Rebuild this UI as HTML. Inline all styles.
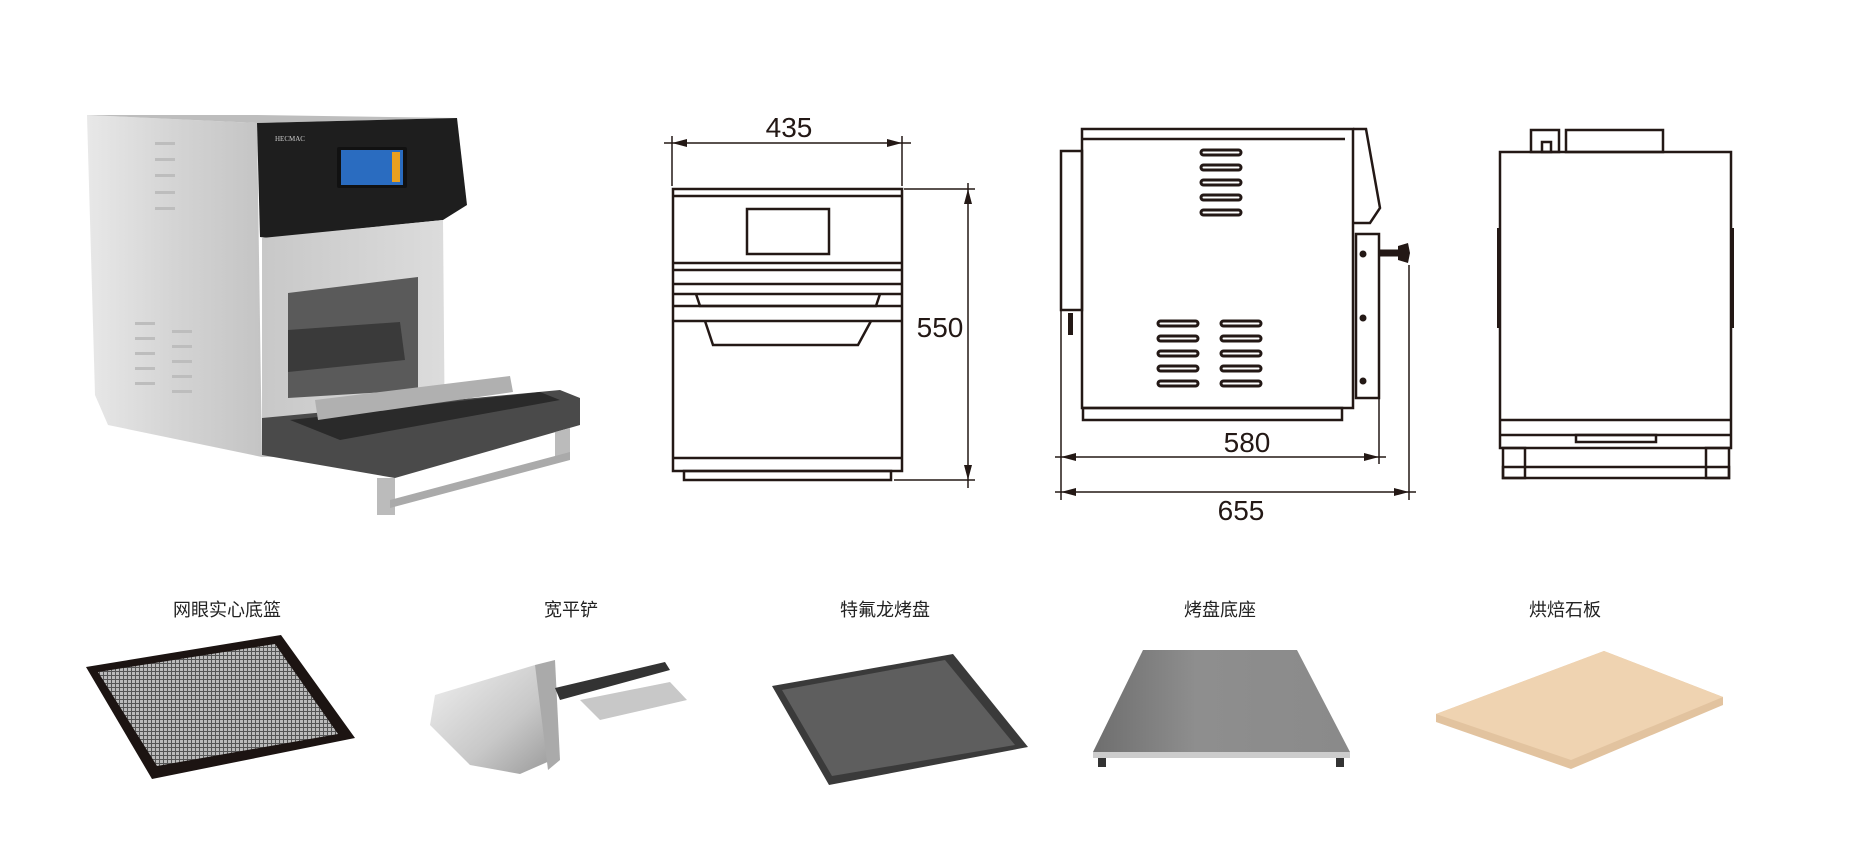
<!DOCTYPE html>
<html><head><meta charset="utf-8"><style>
html,body{margin:0;padding:0;background:#fff;}
body{width:1857px;height:861px;overflow:hidden;position:relative;}
.lb{position:absolute;top:596px;font:18px "Liberation Sans","Noto Sans CJK SC",sans-serif;color:#222;transform:translateX(-50%);white-space:nowrap;}
</style></head><body>
<svg width="1857" height="861" viewBox="0 0 1857 861" style="position:absolute;left:0;top:0">
<defs>
<linearGradient id="side" x1="0" x2="1" y1="0" y2="0"><stop offset="0" stop-color="#e8e8e8"/><stop offset="0.5" stop-color="#d4d4d4"/><stop offset="1" stop-color="#c4c4c4"/></linearGradient>
<linearGradient id="front" x1="0" x2="1"><stop offset="0" stop-color="#c8c8c8"/><stop offset="1" stop-color="#dcdcdc"/></linearGradient>
<linearGradient id="base" x1="0" x2="1"><stop offset="0" stop-color="#6e6e6e"/><stop offset="0.4" stop-color="#8e8e8e"/><stop offset="1" stop-color="#8a8a8a"/></linearGradient>
<linearGradient id="shov" x1="0" x2="1" y1="0" y2="1"><stop offset="0" stop-color="#f0f0f0"/><stop offset="0.6" stop-color="#c8c8c8"/><stop offset="1" stop-color="#9a9a9a"/></linearGradient>
<pattern id="mesh" width="4" height="4" patternUnits="userSpaceOnUse"><rect width="4" height="4" fill="#555"/><rect width="3" height="3" fill="#bbb"/></pattern>
</defs>

<!-- Oven photo -->
<polygon points="87,115 257,123 262,457 108,425 95,395" fill="url(#side)"/>
<polygon points="87,115 257,115 457,118 257,123" fill="#bdbdbd"/>
<polygon points="257,123 457,118 467,205 443,220 268,238 260,237" fill="#1e1e1e"/>
<rect x="337" y="147" width="70" height="41" rx="2" fill="#111"/>
<rect x="341" y="150" width="62" height="35" fill="#2a6cc0"/>
<rect x="392" y="152" width="8" height="30" fill="#e8a020"/>
<text x="275" y="141" font-family="Liberation Serif,serif" font-size="7" fill="#ccc">HECMAC</text>
<polygon points="262,238 443,220 445,455 262,457" fill="url(#front)"/>
<polygon points="288,293 418,277 418,390 288,398" fill="#5a5a5a"/>
<polygon points="288,330 400,322 405,360 288,372" fill="#3a3a3a"/>
<g fill="#bdbdbd"><rect x="155" y="142" width="20" height="3"/><rect x="155" y="158" width="20" height="3"/><rect x="155" y="174" width="20" height="3"/><rect x="155" y="191" width="20" height="3"/><rect x="155" y="207" width="20" height="3"/>
<rect x="135" y="322" width="20" height="3"/><rect x="135" y="337" width="20" height="3"/><rect x="135" y="352" width="20" height="3"/><rect x="135" y="367" width="20" height="3"/><rect x="135" y="382" width="20" height="3"/>
<rect x="172" y="330" width="20" height="3"/><rect x="172" y="345" width="20" height="3"/><rect x="172" y="360" width="20" height="3"/><rect x="172" y="375" width="20" height="3"/><rect x="172" y="390" width="20" height="3"/></g>
<polygon points="262,418 560,390 580,398 580,425 395,478 262,455" fill="#4a4a4a"/>
<polygon points="290,420 540,392 560,400 340,440" fill="#2a2a2a"/>
<polygon points="315,400 510,376 513,392 318,420" fill="#b0b0b0"/>
<polygon points="377,478 395,478 395,515 377,515" fill="#bbb"/>
<polygon points="555,432 570,428 570,458 555,462" fill="#bbb"/>
<polygon points="390,500 570,452 570,460 390,508" fill="#aaa"/>

<!-- Front view -->
<g fill="none" stroke="#231815" stroke-width="2.5">
<rect x="673" y="189" width="229" height="282"/>
<line x1="673" y1="196" x2="902" y2="196"/>
<rect x="747" y="209" width="82" height="45"/>
<line x1="673" y1="263" x2="902" y2="263"/><line x1="673" y1="270" x2="902" y2="270"/>
<line x1="673" y1="284" x2="902" y2="284"/><line x1="673" y1="294" x2="902" y2="294"/>
<line x1="673" y1="306" x2="902" y2="306"/><line x1="673" y1="321" x2="902" y2="321"/>
<polyline points="696,294 700,306 876,306 880,294"/>
<polyline points="705,321 713,345 858,345 871,321"/>
<line x1="673" y1="458" x2="902" y2="458"/>
<rect x="684" y="471" width="207" height="9"/>
</g>
<g stroke="#231815" stroke-width="1.5" fill="none">
<line x1="672" y1="136" x2="672" y2="186"/><line x1="902" y1="136" x2="902" y2="186"/>
<line x1="664" y1="143" x2="911" y2="143"/>
<line x1="904" y1="189" x2="975" y2="189"/><line x1="894" y1="480" x2="975" y2="480"/>
<line x1="968" y1="183" x2="968" y2="488"/>
</g>
<g fill="#231815">
<polygon points="672,143 687,139 687,147"/><polygon points="902,143 887,139 887,147"/>
<polygon points="968,189 964,204 972,204"/><polygon points="968,480 964,465 972,465"/>
</g>
<text x="789" y="137" font-family="Liberation Sans,sans-serif" font-size="28" text-anchor="middle" fill="#231815">435</text>
<text x="940" y="337" font-family="Liberation Sans,sans-serif" font-size="28" text-anchor="middle" fill="#231815">550</text>

<!-- Side view -->
<g fill="none" stroke="#231815" stroke-width="2.5">
<rect x="1082" y="129" width="271" height="279"/>
<line x1="1082" y1="139" x2="1345" y2="139"/>
<rect x="1083" y="408" width="259" height="12"/>
<rect x="1061" y="151" width="21" height="159"/>
<polyline points="1353,129 1366,129 1380,208 1370,223 1353,223"/>
<rect x="1356" y="234" width="23" height="164"/>
<line x1="1379" y1="253" x2="1398" y2="253" stroke-width="7"/>
<line x1="1061" y1="310" x2="1061" y2="500" stroke-width="1.5"/>
<line x1="1379" y1="398" x2="1379" y2="464" stroke-width="1.5"/>
<line x1="1409" y1="265" x2="1409" y2="500" stroke-width="1.5"/>
<line x1="1055" y1="457" x2="1386" y2="457" stroke-width="1.5"/>
<line x1="1055" y1="492" x2="1416" y2="492" stroke-width="1.5"/>
<g stroke-width="3">
<rect x="1201" y="150" width="40" height="5" rx="2.5"/><rect x="1201" y="165" width="40" height="5" rx="2.5"/><rect x="1201" y="180" width="40" height="5" rx="2.5"/><rect x="1201" y="195" width="40" height="5" rx="2.5"/><rect x="1201" y="210" width="40" height="5" rx="2.5"/>
<rect x="1158" y="321" width="40" height="5" rx="2.5"/><rect x="1158" y="336" width="40" height="5" rx="2.5"/><rect x="1158" y="351" width="40" height="5" rx="2.5"/><rect x="1158" y="366" width="40" height="5" rx="2.5"/><rect x="1158" y="381" width="40" height="5" rx="2.5"/>
<rect x="1221" y="321" width="40" height="5" rx="2.5"/><rect x="1221" y="336" width="40" height="5" rx="2.5"/><rect x="1221" y="351" width="40" height="5" rx="2.5"/><rect x="1221" y="366" width="40" height="5" rx="2.5"/><rect x="1221" y="381" width="40" height="5" rx="2.5"/>
</g>
</g>
<g fill="#231815">
<rect x="1068" y="313" width="5" height="22"/>
<path d="M1398,246 L1408,243 L1410,253 L1408,263 L1398,260 Z"/>
<circle cx="1363" cy="254" r="3.5"/><circle cx="1363" cy="318" r="3.5"/><circle cx="1363" cy="381" r="3.5"/>
<polygon points="1061,457 1076,453 1076,461"/><polygon points="1379,457 1364,453 1364,461"/>
<polygon points="1061,492 1076,488 1076,496"/><polygon points="1409,492 1394,488 1394,496"/>
</g>
<text x="1247" y="452" font-family="Liberation Sans,sans-serif" font-size="28" text-anchor="middle" fill="#231815">580</text>
<text x="1241" y="520" font-family="Liberation Sans,sans-serif" font-size="28" text-anchor="middle" fill="#231815">655</text>

<!-- Rear view -->
<g fill="none" stroke="#231815" stroke-width="2.5">
<rect x="1500" y="152" width="231" height="296"/>
<rect x="1531" y="130" width="28" height="22"/>
<rect x="1542" y="142" width="9" height="10"/>
<rect x="1566" y="130" width="97" height="22"/>
<line x1="1500" y1="420" x2="1731" y2="420"/>
<line x1="1500" y1="435" x2="1731" y2="435"/>
<rect x="1576" y="435" width="80" height="7"/>
<rect x="1503" y="448" width="22" height="30"/>
<rect x="1706" y="448" width="23" height="30"/>
<rect x="1503" y="467" width="226" height="11"/>
</g>
<g fill="#231815"><rect x="1497" y="228" width="4" height="100"/><rect x="1730" y="228" width="4" height="100"/></g>

<!-- Accessories -->
<polygon points="86,667 281,635 355,738 152,779" fill="#1c1412"/>
<polygon points="98,672 275,644 338,734 157,766" fill="url(#mesh)"/>
<polygon points="435,695 535,665 548,675 552,760 520,774 470,765 430,725" fill="url(#shov)"/>
<polygon points="535,665 555,660 560,760 548,770" fill="#aaa"/>
<polygon points="555,688 665,662 670,670 560,700" fill="#333"/>
<polygon points="580,700 670,682 687,700 600,720" fill="#c8c8c8"/>
<polygon points="772,686 953,654 1028,747 829,785" fill="#3a3a3a"/>
<polygon points="782,690 945,660 1015,745 832,776" fill="#5e5e5e"/>
<polygon points="1143,650 1297,650 1350,752 1093,752" fill="url(#base)"/>
<rect x="1093" y="752" width="257" height="6" fill="#ccc"/>
<rect x="1098" y="758" width="8" height="9" fill="#333"/><rect x="1336" y="758" width="8" height="9" fill="#333"/>
<polygon points="1436,714 1604,651 1723,697 1723,705 1571,769 1436,722" fill="#e2c39f"/>
<polygon points="1436,714 1604,651 1723,697 1571,760" fill="#efd3b1"/>
</svg>
<div class="lb" style="left:227px">网眼实心底篮</div>
<div class="lb" style="left:571px">宽平铲</div>
<div class="lb" style="left:885px">特氟龙烤盘</div>
<div class="lb" style="left:1220px">烤盘底座</div>
<div class="lb" style="left:1565px">烘焙石板</div>
</body></html>
